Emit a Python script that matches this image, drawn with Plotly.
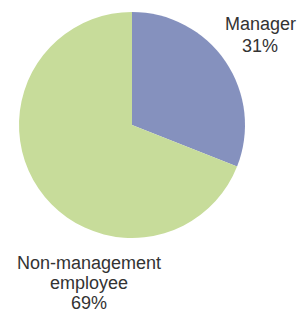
import plotly.graph_objects as go

categories = ["Manager", "Non-management employee"]
values = [31, 69]
label_lines = [["Manager", "31%"], ["Non-management", "employee", "69%"]]
colors = ["#8591BE", "#C7DC9A"]

W, H = 307, 313

fig = go.Figure(go.Pie(
    labels=categories,
    values=values,
    sort=False,
    direction="clockwise",
    rotation=0,
    textinfo="none",
    hoverinfo="label+percent",
    marker=dict(colors=colors, line=dict(width=0)),
    showlegend=False,
    domain=dict(x=[18.5 / W, 245.5 / W], y=[1 - 238 / H, 1 - 12 / H]),
))

font = dict(family="Liberation Sans, Arial, sans-serif", size=18, color="#333333")
label_pos = [(260, [24, 46]), (89, [263, 283, 303])]
for lines, (cx, ys) in zip(label_lines, label_pos):
    for line, cy in zip(lines, ys):
        fig.add_annotation(x=cx / W, y=1 - cy / H, xref="paper", yref="paper",
                           text=line, showarrow=False, font=font,
                           xanchor="center", yanchor="middle", align="center")

fig.update_layout(
    width=W, height=H,
    margin=dict(l=0, r=0, t=0, b=0),
    paper_bgcolor="white", plot_bgcolor="white",
)

fig.write_html("out.html", config={"displayModeBar": False},
               post_script="document.body.style.margin='0';document.body.style.overflow='hidden';")
